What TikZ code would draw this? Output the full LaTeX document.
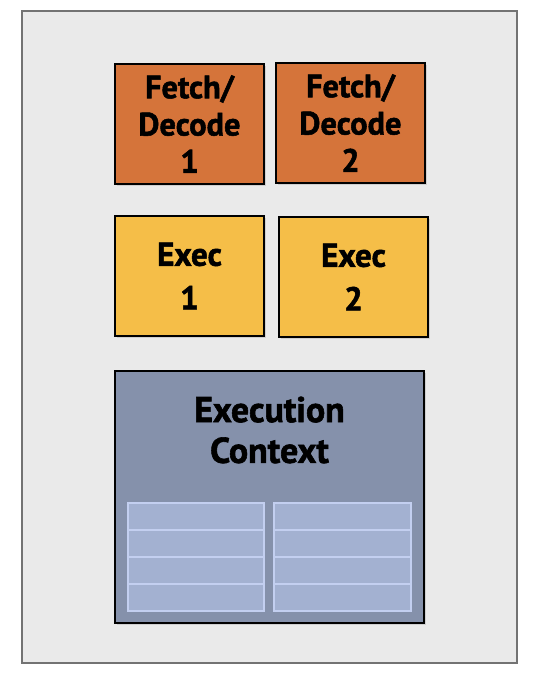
\documentclass[tikz,border=0pt]{standalone}
\usepackage{fontspec}
\setmainfont{PT Sans}[BoldFeatures={FakeBold=1.6}]
\usepackage{xcolor}
\usepackage{tikz}
\usetikzlibrary{shadows}
\definecolor{fetchorange}{HTML}{D5743A}
\definecolor{execyellow}{HTML}{F5BE48}
\definecolor{ctxblue}{HTML}{8591AB}
\definecolor{regfill}{HTML}{A3B1D1}
\definecolor{regline}{HTML}{C3CFF0}
\definecolor{coreback}{HTML}{EAEAEA}

\begin{document}
\begin{tikzpicture}[x=0.025cm,y=-0.025cm,
	unit node/.style={rectangle, draw=black, line width=1.2pt, align=center, inner sep=0pt,
		drop shadow={shadow xshift=1.5pt, shadow yshift=-1.5pt, opacity=0.25}},
	fetch node/.style={unit node, fill=fetchorange, minimum width=3.725cm, minimum height=3cm,
		font=\fontsize{23}{26.5}\selectfont\bfseries},
	exec node/.style={unit node, fill=execyellow, minimum width=3.725cm, minimum height=3cm,
		font=\fontsize{23.5}{31}\selectfont\bfseries},
	reg cell/.style={rectangle, draw=regline, line width=0.8pt, fill=regfill, minimum height=0.675cm, inner sep=0pt}]
			\useasboundingbox (0,0) rectangle (552,682);
			% Core
			\node[rectangle, draw=black!55, line width=1.1pt, fill=coreback, minimum width=12.375cm, minimum height=16.3cm] (core) at (269.5,337) {};
			
			% Nodes
			\node[fetch node] (fd1) at (189.5,124) {Fetch/\\Decode\\1};
			\node[fetch node] (fd2) at (350.5,123) {Fetch/\\Decode\\2};
			\node[exec node] (ex1) at (189.5,276) {Exec\\1};
			\node[exec node] (ex2) at (353.5,277) {Exec\\2};
			
			\node[unit node, fill=ctxblue, minimum width=7.725cm, minimum height=6.3cm] (ctx) at (269.5,497) {};
			\node[align=center, font=\fontsize{25.5}{29}\selectfont\bfseries] (ctxlabel) at (269.5,430) {Execution\\Context};
			
			% Registers
			\foreach \r/\y in {1/516.5, 2/543.5, 3/570.5, 4/597.5} {
				\node[reg cell, minimum width=3.4cm] (regA\r) at (196,\y) {};
				\node[reg cell, minimum width=3.425cm] (regB\r) at (342.5,\y) {};
			}
			
		\end{tikzpicture}
\end{document}
